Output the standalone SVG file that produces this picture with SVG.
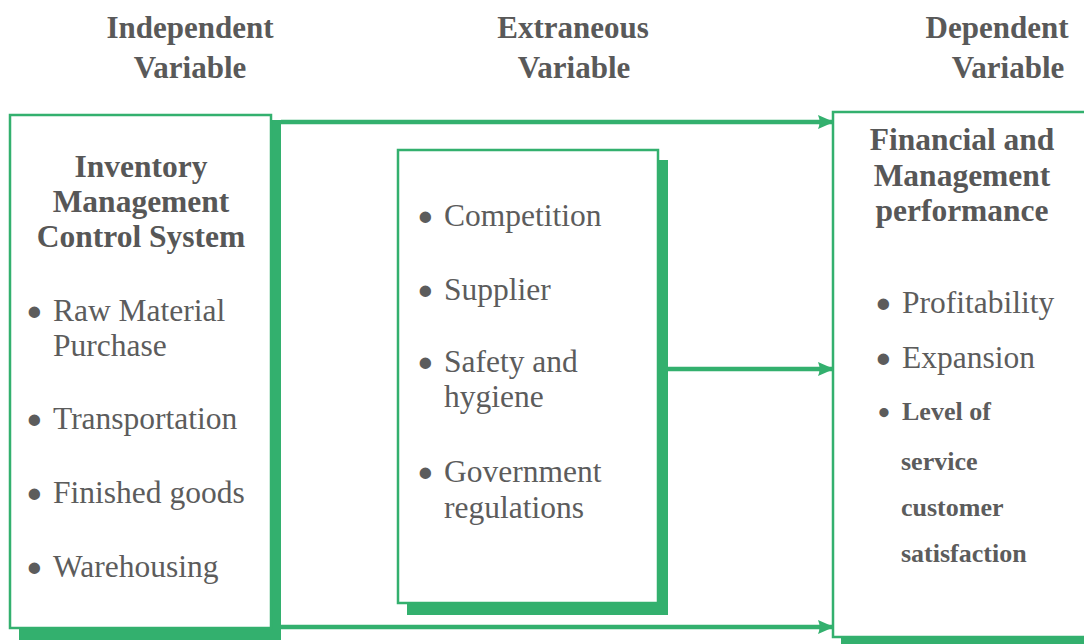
<svg xmlns="http://www.w3.org/2000/svg" width="1084" height="644" viewBox="0 0 1084 644">
  <style>
    .hd { font-family: "Liberation Serif", "Times New Roman", serif; font-weight: bold; font-size: 31px; fill: #595959; text-anchor: middle; }
    .ttl { font-family: "Liberation Serif", "Times New Roman", serif; font-weight: bold; font-size: 31.5px; fill: #575757; text-anchor: middle; }
    .it { font-family: "Liberation Serif", "Times New Roman", serif; font-size: 31.5px; fill: #5c5c5c; }
    .sm { font-family: "Liberation Serif", "Times New Roman", serif; font-weight: bold; font-size: 26px; fill: #5c5c5c; }
    .dot { font-weight: bold; font-size: 42px; baseline-shift: -5px; }
    .sm .dot { font-size: 34px; baseline-shift: -4px; }
    .shadow { fill: #33b06e; }
    .box { fill: #ffffff; stroke: #33b06e; stroke-width: 2.5; }
    .wire { fill: none; stroke: #33b06e; stroke-width: 4.5; }
  </style>
  <defs>
    <marker id="arrow" markerUnits="userSpaceOnUse" markerWidth="18" markerHeight="18" refX="16" refY="9" orient="auto">
      <path d="M0,2 L16,9 L0,16 Q3,9 0,2 Z" fill="#33b06e"/>
    </marker>
  </defs>
  <rect width="1084" height="644" fill="#ffffff"/>

  <!-- column headings -->
  <g id="headings">
    <text class="hd" x="190" y="38">Independent</text>
    <text class="hd" x="190" y="78">Variable</text>
    <text class="hd" x="573" y="38">Extraneous</text>
    <text class="hd" x="574" y="78">Variable</text>
    <text class="hd" x="997" y="38">Dependent</text>
    <text class="hd" x="1008" y="78">Variable</text>
  </g>

  <!-- connectors -->
  <g id="connectors">
    <line class="wire" x1="281" y1="122" x2="834" y2="122" marker-end="url(#arrow)"/>
    <line class="wire" x1="668" y1="369" x2="834" y2="369" marker-end="url(#arrow)"/>
    <line class="wire" x1="281" y1="627" x2="834" y2="627" marker-end="url(#arrow)"/>
  </g>

  <!-- independent variable -->
  <g id="node-independent">
    <rect class="shadow" x="19" y="120" width="262" height="520"/>
    <rect class="box" x="10" y="115" width="261" height="513"/>
    <text class="ttl" x="141" y="177">Inventory</text>
    <text class="ttl" x="141" y="212">Management</text>
    <text class="ttl" x="141" y="247">Control System</text>
    <text class="it" y="321"><tspan class="dot" x="27">•</tspan><tspan x="53">Raw Material</tspan></text>
    <text class="it" x="53" y="356">Purchase</text>
    <text class="it" y="429"><tspan class="dot" x="27">•</tspan><tspan x="53">Transportation</tspan></text>
    <text class="it" y="503"><tspan class="dot" x="27">•</tspan><tspan x="53">Finished goods</tspan></text>
    <text class="it" y="577"><tspan class="dot" x="27">•</tspan><tspan x="53">Warehousing</tspan></text>
  </g>

  <!-- extraneous variable -->
  <g id="node-extraneous">
    <rect class="shadow" x="407" y="160" width="261" height="455"/>
    <rect class="box" x="398" y="150" width="260" height="453"/>
    <text class="it" y="226"><tspan class="dot" x="418">•</tspan><tspan x="444">Competition</tspan></text>
    <text class="it" y="300"><tspan class="dot" x="418">•</tspan><tspan x="444">Supplier</tspan></text>
    <text class="it" y="372"><tspan class="dot" x="418">•</tspan><tspan x="444">Safety and</tspan></text>
    <text class="it" x="444" y="407">hygiene</text>
    <text class="it" y="482"><tspan class="dot" x="418">•</tspan><tspan x="444">Government</tspan></text>
    <text class="it" x="444" y="518">regulations</text>
  </g>

  <!-- dependent variable -->
  <g id="node-dependent">
    <rect class="shadow" x="841" y="120" width="260" height="530"/>
    <rect class="box" x="833" y="112" width="262" height="525"/>
    <text class="ttl" x="962" y="150">Financial and</text>
    <text class="ttl" x="962" y="186">Management</text>
    <text class="ttl" x="962" y="221">performance</text>
    <text class="it" y="313"><tspan class="dot" x="876">•</tspan><tspan x="902">Profitability</tspan></text>
    <text class="it" y="368"><tspan class="dot" x="876">•</tspan><tspan x="902">Expansion</tspan></text>
    <text class="sm" y="420"><tspan class="dot" x="878">•</tspan><tspan x="902">Level of</tspan></text>
    <text class="sm" x="901" y="470">service</text>
    <text class="sm" x="901" y="516">customer</text>
    <text class="sm" x="901" y="562">satisfaction</text>
  </g>
</svg>
